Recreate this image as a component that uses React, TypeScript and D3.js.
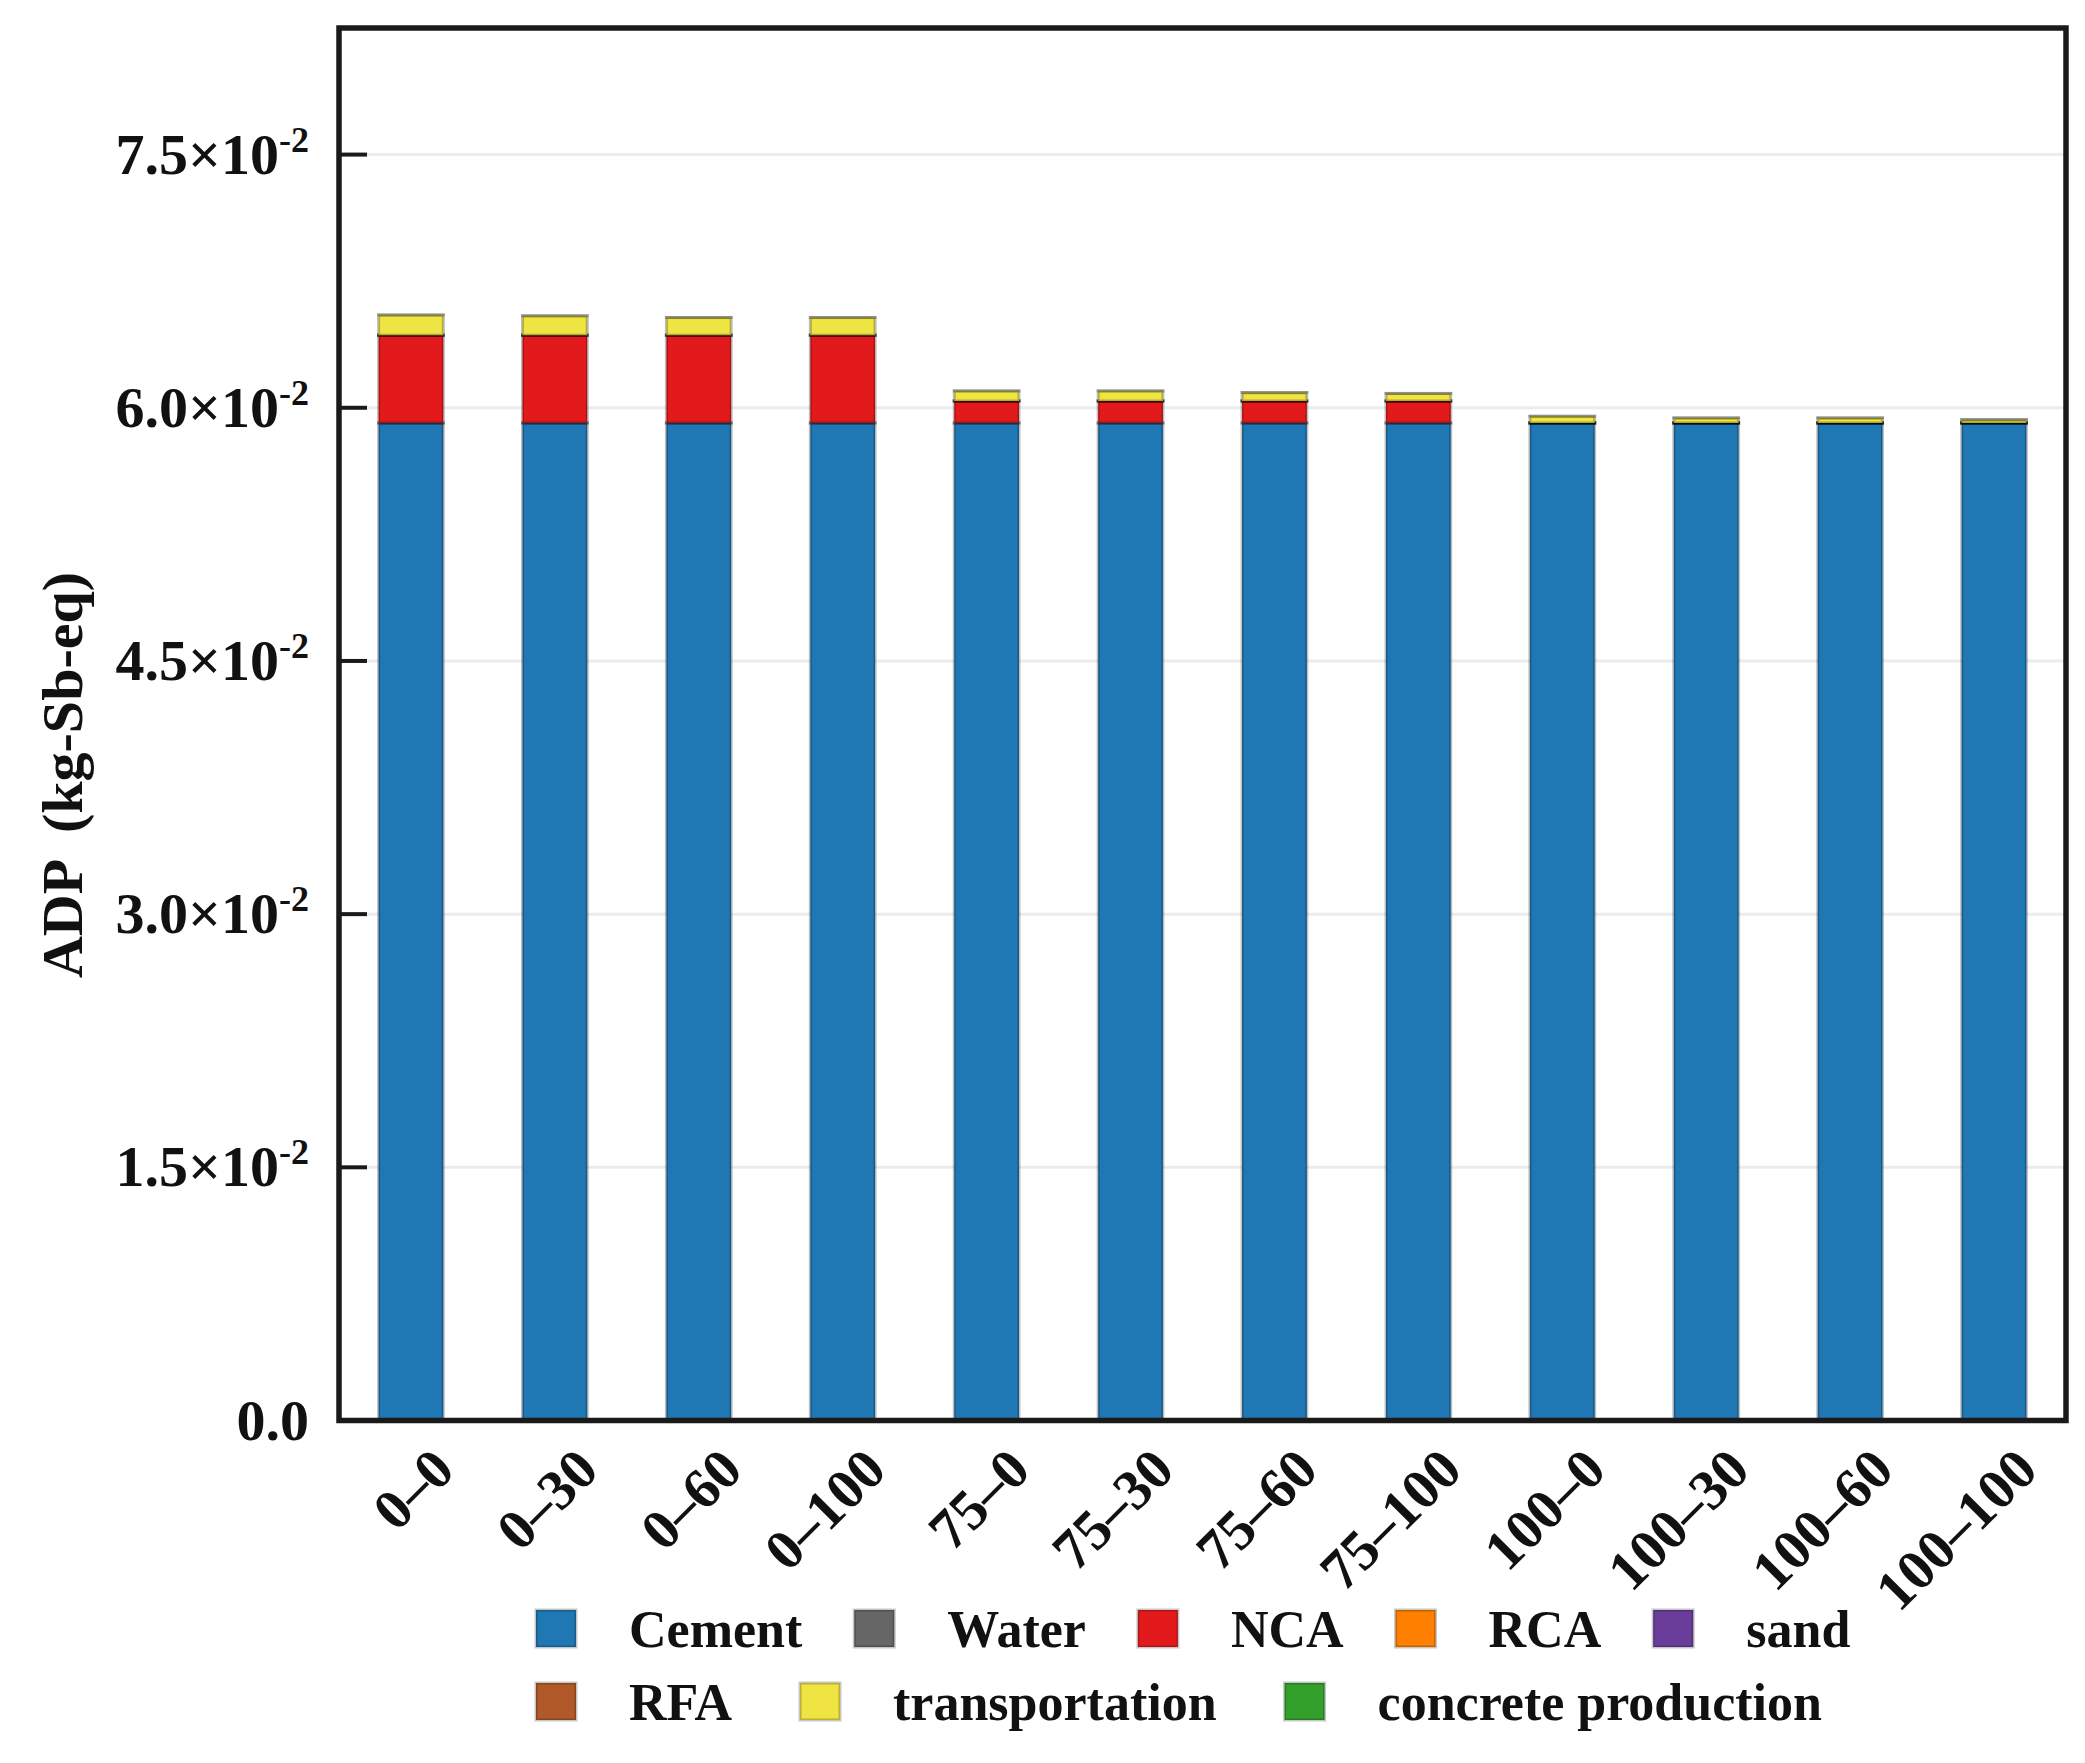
import { useEffect, useRef } from 'react';
import * as d3 from 'd3';

// mixes (RCA % – RFA %)
const categories = ['0–0', '0–30', '0–60', '0–100', '75–0', '75–30', '75–60', '75–100', '100–0', '100–30', '100–60', '100–100'];

const seriesNames = ['Cement', 'Water', 'NCA', 'RCA', 'sand', 'RFA', 'transportation', 'concrete production'];
const seriesColors = ['#1f77b4', '#666666', '#e31a1c', '#ff7f00', '#6a3d9a', '#b15928', '#efe442', '#33a02c'];

// ADP contributions, kg-Sb-eq
const cement = [0.0591, 0.0591, 0.0591, 0.0591, 0.0591, 0.0591, 0.0591, 0.0591, 0.0591, 0.0591, 0.0591, 0.0591];
const water = [0, 0, 0, 0, 0, 0, 0, 0, 0, 0, 0, 0];
const nca = [0.0052, 0.0052, 0.0052, 0.0052, 0.0013, 0.0013, 0.0013, 0.0013, 0, 0, 0, 0];
const rca = [0, 0, 0, 0, 0, 0, 0, 0, 0, 0, 0, 0];
const sand = [0, 0, 0, 0, 0, 0, 0, 0, 0, 0, 0, 0];
const rfa = [0, 0, 0, 0, 0, 0, 0, 0, 0, 0, 0, 0];
const transportation = [0.0012, 0.00115, 0.00105, 0.00105, 0.0006, 0.0006, 0.0005, 0.00045, 0.0004, 0.0003, 0.0003, 0.0002];
const concreteProduction = [0, 0, 0, 0, 0, 0, 0, 0, 0, 0, 0, 0];

const yTicks = [0, 0.015, 0.03, 0.045, 0.06, 0.075];

const legendRows = [
  ['Cement', 'Water', 'NCA', 'RCA', 'sand'],
  ['RFA', 'transportation', 'concrete production'],
];

const FONT = '"Liberation Serif", "Times New Roman", serif';

export default function App() {
  const ref = useRef<SVGSVGElement>(null);

  useEffect(() => {
    if (!ref.current) return;
    const root = d3.select(ref.current);
    root.selectAll('*').remove();

    const W = 2085;
    const H = 1763;
    const margin = { top: 28, right: 19, bottom: 342.5, left: 339 };
    const width = W - margin.left - margin.right;
    const height = H - margin.top - margin.bottom;

    root.append('rect').attr('width', W).attr('height', H).attr('fill', '#fff');

    const svg = root.append('g').attr('transform', `translate(${margin.left},${margin.top})`);

    const x = d3.scaleBand().domain(categories).range([0, width]).paddingInner(0.55).paddingOuter(0.275);
    const y = d3.scaleLinear().domain([0, 0.0825]).range([height, 0]);

    // 1) grid lines
    yTicks.filter(t => t > 0).forEach(t => {
      svg.append('line')
        .attr('x1', 0).attr('x2', width)
        .attr('y1', y(t)).attr('y2', y(t))
        .attr('stroke', '#ececec')
        .attr('stroke-width', 3);
    });

    // 2) stacked bars
    const values = [cement, water, nca, rca, sand, rfa, transportation, concreteProduction];
    const rows = categories.map((c, i) => {
      const r: Record<string, any> = { cat: c };
      seriesNames.forEach((s, k) => { r[s] = values[k][i]; });
      return r;
    });
    const stacked = d3.stack<any>().keys(seriesNames)(rows);

    stacked.forEach((layer, k) => {
      svg.append('g')
        .selectAll('rect')
        .data(layer)
        .join('rect')
        .attr('x', d => x(d.data.cat)!)
        .attr('y', d => y(d[1]))
        .attr('width', x.bandwidth())
        .attr('height', d => Math.max(y(d[0]) - y(d[1]), 0.05))
        .attr('fill', seriesColors[k])
        .attr('stroke', 'rgba(0,0,0,0.25)')
        .attr('stroke-width', 3);
    });

    // 3) frame and ticks
    svg.append('rect')
      .attr('width', width).attr('height', height)
      .attr('fill', 'none')
      .attr('stroke', '#1a1a1a')
      .attr('stroke-width', 5.5);

    yTicks.forEach(t => {
      svg.append('line')
        .attr('x1', 0).attr('x2', 28)
        .attr('y1', y(t)).attr('y2', y(t))
        .attr('stroke', '#1a1a1a')
        .attr('stroke-width', 4);

      const label = svg.append('text')
        .attr('x', -30)
        .attr('y', y(t) + 19)
        .attr('text-anchor', 'end')
        .attr('font-family', FONT)
        .attr('font-weight', 'bold')
        .attr('font-size', 58)
        .attr('fill', '#111');
      if (t === 0) {
        label.text('0.0');
      } else {
        label.append('tspan').text(`${(t * 100).toFixed(1)}×10`);
        label.append('tspan').attr('font-size', 36).attr('dy', -22).text('-2');
      }
    });

    // 4) x labels
    categories.forEach(c => {
      svg.append('text')
        .attr('transform', `translate(${x(c)! + x.bandwidth() / 2 + 46},${height + 52}) rotate(-45)`)
        .attr('text-anchor', 'end')
        .attr('font-family', FONT)
        .attr('font-weight', 'bold')
        .attr('font-size', 57)
        .attr('fill', '#111')
        .text(c);
    });

    // 5) y axis title
    root.append('text')
      .attr('transform', 'translate(82,775) rotate(-90)')
      .attr('text-anchor', 'middle')
      .attr('font-family', FONT)
      .attr('font-weight', 'bold')
      .attr('font-size', 58)
      .attr('fill', '#111')
      .style('white-space', 'pre')
      .text('ADP  (kg-Sb-eq)');

    // 6) legend
    const legendGap = [52, 68];
    const legendY = [1647, 1720];
    legendRows.forEach((row, ri) => {
      let cx = 536;
      row.forEach(name => {
        const k = seriesNames.indexOf(name);
        root.append('rect')
          .attr('x', cx).attr('y', legendY[ri] - 37)
          .attr('width', 40).attr('height', 37)
          .attr('fill', seriesColors[k])
          .attr('stroke', 'rgba(0,0,0,0.22)')
          .attr('stroke-width', 3);
        const txt = root.append('text')
          .attr('x', cx + 93)
          .attr('y', legendY[ri])
          .attr('font-family', FONT)
          .attr('font-weight', 'bold')
          .attr('font-size', 52)
          .attr('fill', '#111')
          .text(name);
        const tw = (txt.node() as SVGTextElement).getComputedTextLength();
        cx += 93 + tw + legendGap[ri];
      });
    });
  }, []);

  return (
    <svg
      ref={ref}
      width={2085}
      height={1763}
      style={{ position: 'absolute', left: 0, top: 0, display: 'block' }}
    />
  );
}
